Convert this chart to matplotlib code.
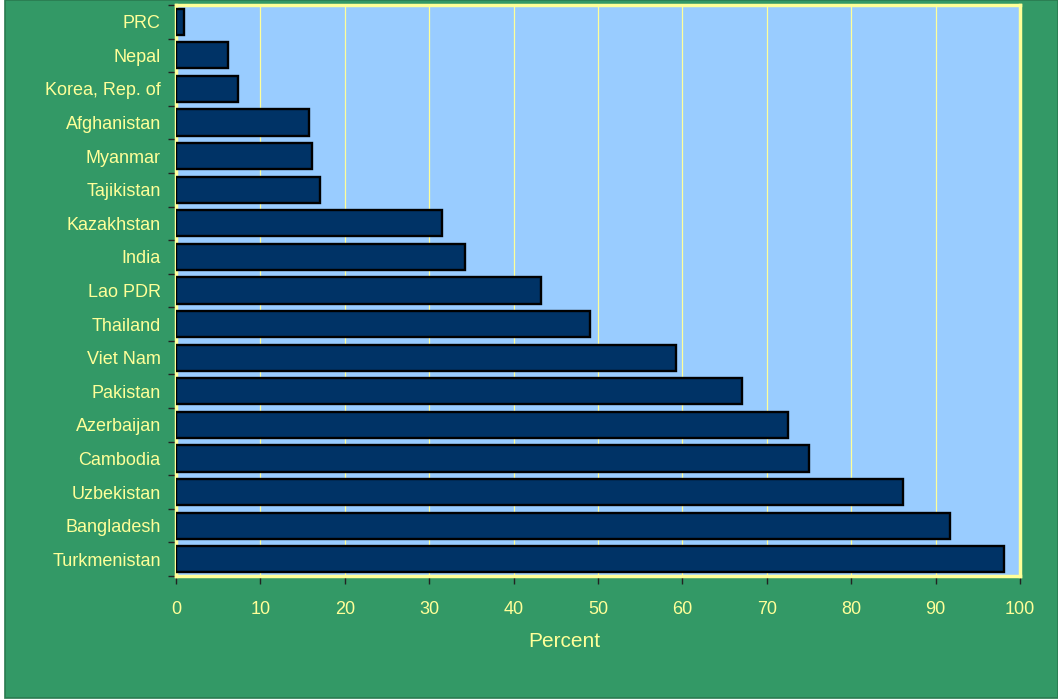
import numpy as np
import matplotlib
matplotlib.use('Agg')
import matplotlib.pyplot as plt
from matplotlib.patches import Rectangle

countries = ['PRC', 'Nepal', 'Korea, Rep. of', 'Afghanistan', 'Myanmar', 'Tajikistan',
             'Kazakhstan', 'India', 'Lao PDR', 'Thailand', 'Viet Nam', 'Pakistan',
             'Azerbaijan', 'Cambodia', 'Uzbekistan', 'Bangladesh', 'Turkmenistan']
percent = [0.9, 6.2, 7.3, 15.8, 16.1, 17.1, 31.5, 34.2, 43.2, 49.1, 59.2, 67.1,
           72.5, 75.0, 86.1, 91.7, 98.1]
xticks = list(range(0, 101, 10))

green = '#339966'
yellow = '#FFFF99'
navy = '#003366'
sky = '#99CCFF'

plt.rcParams['font.family'] = ['Liberation Sans', 'DejaVu Sans']

fig = plt.figure(figsize=(10.58, 7.0), dpi=100, facecolor='white')
fig.patches.append(Rectangle((5 / 1058, 2 / 700), 1 - 5 / 1058, 1 - 2 / 700,
                             transform=fig.transFigure, facecolor=green,
                             edgecolor='#2a7a50', linewidth=1.2, zorder=-10))

ax = fig.add_axes([176 / 1058, 1 - 576 / 700, (1020 - 176) / 1058, (576 - 5) / 700])
ax.set_zorder(5)
ax.set_facecolor(sky)

y = np.arange(len(countries))
ax.barh(y, percent, height=0.78, color=navy, edgecolor='black', linewidth=1.7, zorder=3)

ax.set_xlim(0, 100)
ax.set_ylim(len(countries) - 0.5, -0.5)
ax.set_xticks(xticks)
ax.set_yticks(y)
ax.set_yticklabels(countries)
ax.set_yticks(np.arange(-0.5, len(countries), 1), minor=True)
ax.tick_params(axis='y', which='major', length=0, pad=11, labelcolor=yellow, labelsize=13)
ax.tick_params(axis='y', which='minor', length=6, width=1, color='#222222', direction='out')
ax.tick_params(axis='x', length=6, width=1, color='#222222', direction='out',
               labelcolor=yellow, labelsize=13, pad=12)

ax.grid(True, axis='x', color=yellow, linewidth=0.9, zorder=1)
ax.set_axisbelow(True)
for s in ax.spines.values():
    s.set_color(yellow)
    s.set_linewidth(2.5)

ax.set_xlabel('Percent', color=yellow, fontsize=15)
ax.xaxis.set_label_coords(0.46, -0.098)

fig.savefig('out.png', dpi=100, facecolor=fig.get_facecolor())
